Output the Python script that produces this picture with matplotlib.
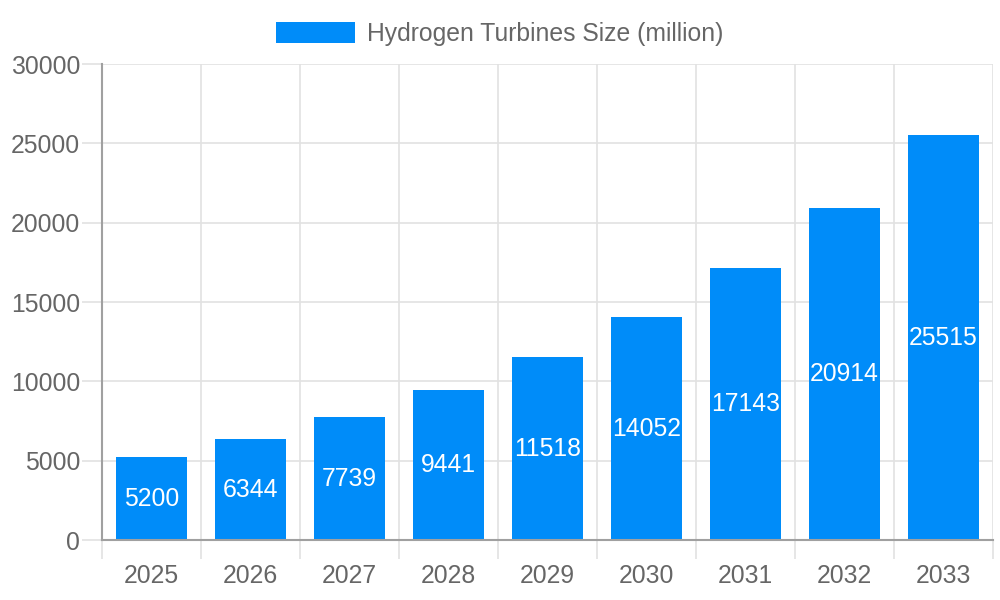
import matplotlib.pyplot as plt
import numpy as np

plt.rcParams['font.family'] = ['Liberation Sans', 'DejaVu Sans']

years = ['2025', '2026', '2027', '2028', '2029', '2030', '2031', '2032', '2033']
sizes = [5200, 6344, 7739, 9441, 11518, 14052, 17143, 20914, 25515]
series_name = 'Hydrogen Turbines Size (million)'

bar_color = '#008cf9'
text_color = '#666666'
grid_color = '#e2e2e2'
axis_color = '#a0a0a0'
fs = 17.8

fig = plt.figure(figsize=(10, 6), dpi=100)
ax = fig.add_axes([0.102, 0.1, 0.891, 0.7933])

x = np.arange(len(years))
bars = ax.bar(x, sizes, 0.72, color=bar_color, label=series_name, zorder=3)
ax.bar_label(bars, labels=[str(v) for v in sizes], label_type='center',
             color='white', fontsize=fs, zorder=4)

ax.set_xlim(-0.5, len(years) - 0.5)
ax.set_ylim(0, 30000)
ax.set_yticks(np.arange(0, 30001, 5000))
ax.set_xticks(x)
ax.set_xticklabels(years)

# grid lines sit at the category boundaries on x
ax.set_xticks(np.arange(-0.5, len(years)), minor=True)
ax.grid(True, which='minor', axis='x', color=grid_color, lw=1.2, zorder=0)
ax.grid(True, which='major', axis='y', color=grid_color, lw=1.2, zorder=0)
# tick lengths in points (dpi 100 -> 0.72 pt per px)
ax.tick_params(axis='x', which='major', length=0, pad=17.5, labelsize=fs, labelcolor=text_color)
ax.tick_params(axis='x', which='minor', length=13.7, width=1.2, color=grid_color)
ax.tick_params(axis='y', length=14.4, width=1.2, color=grid_color, pad=1.5,
               labelsize=fs, labelcolor=text_color)

for side in ['top', 'right']:
    ax.spines[side].set_visible(False)
ax.spines['left'].set_color(axis_color)
ax.spines['bottom'].set_color(axis_color)
ax.spines['left'].set_linewidth(1.5)
ax.spines['bottom'].set_linewidth(1.5)
ax.spines['bottom'].set_zorder(5)

fig.legend(loc='center', bbox_to_anchor=(0.5, 1 - 34 / 600), frameon=False,
           fontsize=fs, labelcolor=text_color, handlelength=3.2,
           handleheight=0.96, handletextpad=0.48)

fig.savefig('out.png', dpi=100)
